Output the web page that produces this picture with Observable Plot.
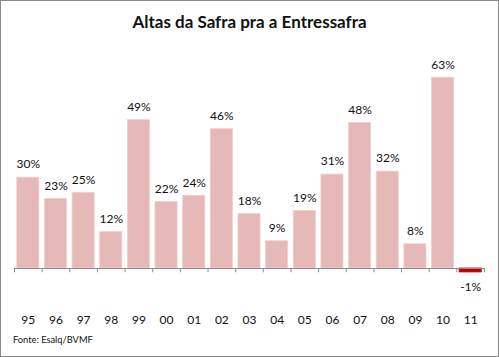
<!DOCTYPE html>
<html><head><meta charset="utf-8">
<script src="https://cdn.jsdelivr.net/npm/d3@7"></script>
<script src="https://cdn.jsdelivr.net/npm/@observablehq/plot@0.6"></script>
<style>
body{margin:0;background:#fff}
#wrap{position:relative;width:499px;height:357px;overflow:hidden;font-family:Lato,sans-serif;color:#111;background:#fff}
#border{position:absolute;left:0;top:0;right:0;bottom:0;border:1px solid #8a8a8a;pointer-events:none}
#title{height:40px;box-sizing:border-box;padding-top:13px;font-size:17px;font-weight:bold;text-align:center;line-height:17px}
#chart{height:290px}
#chart svg{display:block}
#caption{height:27px;box-sizing:border-box;padding-left:13px;padding-top:4px;font-size:9.3px;line-height:12px}
</style>
</head><body>
<div id="wrap">
  <div id="title">Altas da Safra pra a Entressafra</div>
  <div id="chart"></div>
  <div id="caption">Fonte: Esalq/BVMF</div>
  <div id="border"></div>
</div>
<script>
const years = ["95","96","97","98","99","00","01","02","03","04","05","06","07","08","09","10","11"];
const changes = [30,23,25,12,49,22,24,46,18,9,19,31,48,32,8,63,-1.3];
const boundaries = d3.range(years.length + 1).map(k => k - 0.5);

const data = years.map((year, i) => ({i, year, value: changes[i]}));
const pos = data.filter(d => d.value >= 0);
const neg = data.filter(d => d.value < 0);
const pct = d => Math.round(d.value) + "%";

const chart = Plot.plot({
  width: 499,
  height: 290,
  marginTop: 16,
  marginBottom: 31.7,
  marginLeft: 14,
  marginRight: 15,
  style: {fontFamily: "Lato, sans-serif", background: "transparent", color: "#111"},
  x: {type: "linear", domain: [-0.5, years.length - 0.5], axis: null},
  y: {domain: [-10, 70], axis: null},
  marks: [
    Plot.rectY(data, {x1: d => d.i - 0.4, x2: d => d.i + 0.4, y1: 0, y2: "value",
      fill: d => d.value < 0 ? "#c00000" : "#e6b8b7", stroke: d => d.value < 0 ? "#c00000" : "#efd0cf", strokeWidth: 0.8}),
    Plot.ruleY([0], {stroke: "#8c8c8c"}),
    Plot.ruleX(boundaries, {x: d => d, y1: 0, y2: -1.4, stroke: "#8c8c8c"}),
    Plot.text(pos, {x: "i", y: "value", text: pct, dy: -13, fontSize: 12, fill: "#111"}),
    Plot.text(neg, {x: "i", y: "value", text: pct, dy: 15, fontSize: 12, fill: "#111"}),
    Plot.text(data, {x: "i", y: 0, text: "year", dy: 52, fontSize: 12, fill: "#111"})
  ]
});
document.getElementById("chart").appendChild(chart);
</script>
</body></html>
